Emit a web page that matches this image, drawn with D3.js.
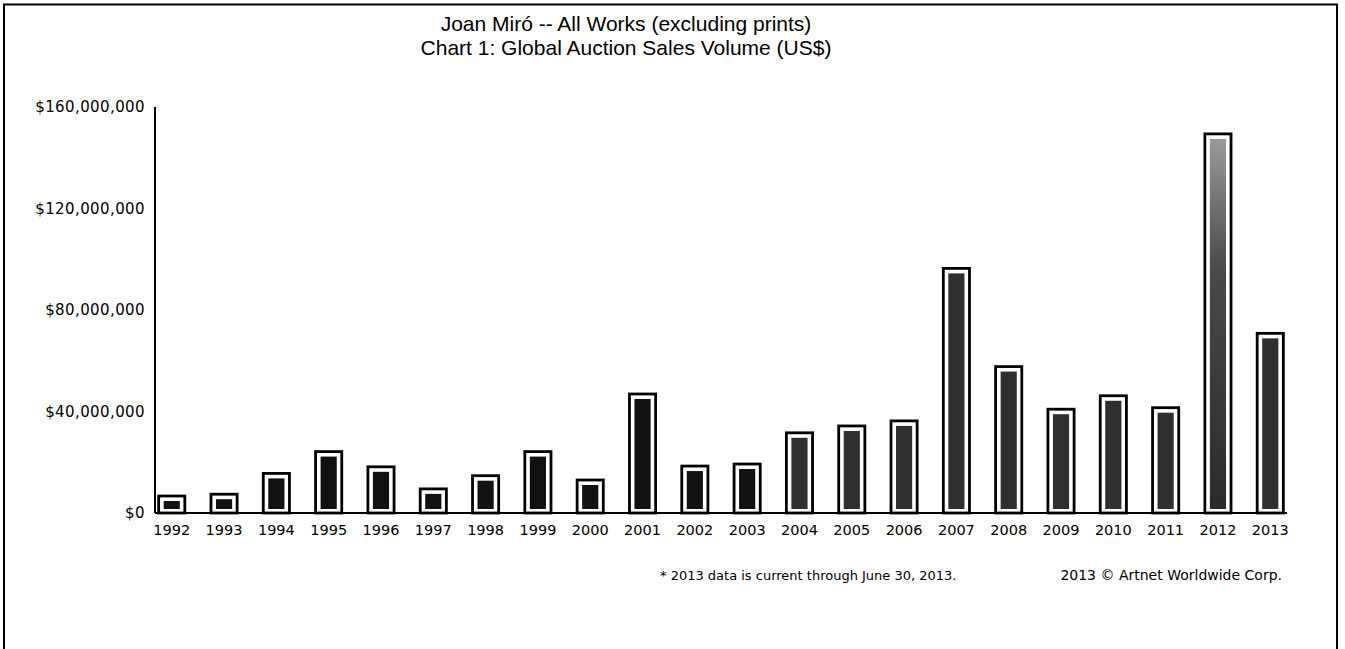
<!DOCTYPE html>
<html>
<head>
<meta charset="utf-8">
<script src="https://cdn.jsdelivr.net/npm/d3@7"></script>
<style>
  body { margin: 0; background: #fff; }
  svg { display: block; }
  .tick-y, .tick-x { font-family: "DejaVu Sans", Verdana, sans-serif; fill: #000; }
</style>
</head>
<body>
<svg id="chart" width="1345" height="649"></svg>
<script>
// data (US$ millions)
var years = ["1992","1993","1994","1995","1996","1997","1998","1999","2000","2001","2002",
             "2003","2004","2005","2006","2007","2008","2009","2010","2011","2012","2013"];
var salesMillions = [6.7, 7.4, 15.6, 24.2, 18.2, 9.5, 14.7, 24.2, 13.0, 46.9, 18.5,
                     19.3, 31.6, 34.3, 36.3, 96.4, 57.7, 40.9, 46.2, 41.5, 149.4, 70.8];
var yTicks = [0, 40000000, 80000000, 120000000, 160000000];
var titleLines = ["Joan Miró -- All Works (excluding prints)",
                  "Chart 1: Global Auction Sales Volume (US$)"];
var footNote = "* 2013 data is current through June 30, 2013.";
var copyright = "2013 \u00A9 Artnet Worldwide Corp.";

var data = years.map(function(y, i) { return { year: y, value: salesMillions[i] * 1e6 }; });

var svg = d3.select("#chart");

// frame (no bottom edge, it runs off the page)
svg.append("path")
  .attr("d", "M4,649 L4,4.5 L1337,4.5 L1337,649")
  .attr("fill", "none")
  .attr("stroke", "#000")
  .attr("stroke-width", 2);

// titles
svg.selectAll(".title")
  .data(titleLines)
  .enter().append("text")
  .attr("class", "title")
  .attr("x", 626)
  .attr("y", function(d, i) { return 31 + i * 24; })
  .attr("text-anchor", "middle")
  .attr("font-family", "'Liberation Sans', Arial, sans-serif")
  .attr("font-size", "21px")
  .text(function(d) { return d; });

var x = d3.scaleBand()
  .domain(years)
  .range([155, 1287])
  .paddingInner(0.5)
  .paddingOuter(0.07);

var y = d3.scaleLinear()
  .domain([0, 160000000])
  .range([513, 107]);

var fmt = d3.format("$,");

// y labels (no tick marks in the original)
var gy = svg.append("g").attr("transform", "translate(155,0)")
  .call(d3.axisLeft(y).tickValues(yTicks).tickSize(0).tickPadding(10).tickFormat(fmt));
gy.select(".domain").remove();
gy.selectAll("text")
  .attr("class", "tick-y")
  .attr("font-size", "15px")
  .attr("letter-spacing", "0.4px");

// x labels
var gx = svg.append("g").attr("transform", "translate(0,513)")
  .call(d3.axisBottom(x).tickSize(0).tickPadding(12));
gx.select(".domain").remove();
gx.selectAll("text")
  .attr("class", "tick-x")
  .attr("font-size", "14.5px");

// bar fills
var defs = svg.append("defs");
var grad = defs.append("linearGradient")
  .attr("id", "lightTop")
  .attr("x1", 0).attr("y1", 0).attr("x2", 0).attr("y2", 1);
grad.append("stop").attr("offset", "0%").attr("stop-color", "#9a9a9a");
grad.append("stop").attr("offset", "35%").attr("stop-color", "#4a4a4a");
grad.append("stop").attr("offset", "100%").attr("stop-color", "#2a2a2a");

function innerFill(d) {
  if (d.year === "2012") return "url(#lightTop)";
  return +d.year >= 2004 ? "#2f2f2f" : "#111";
}

var bars = svg.selectAll(".bar")
  .data(data)
  .enter().append("g")
  .attr("class", "bar");

bars.append("rect")
  .attr("x", function(d) { return x(d.year); })
  .attr("y", function(d) { return y(d.value); })
  .attr("width", x.bandwidth())
  .attr("height", function(d) { return y(0) - y(d.value); })
  .attr("fill", "#fff")
  .attr("stroke", "#000")
  .attr("stroke-width", 2.8);

bars.append("rect")
  .attr("x", function(d) { return x(d.year) + 5; })
  .attr("y", function(d) { return y(d.value) + 5; })
  .attr("width", x.bandwidth() - 10)
  .attr("height", function(d) { return Math.max(0, y(0) - y(d.value) - 9); })
  .attr("fill", innerFill);

// axis lines
svg.append("line")
  .attr("x1", 155).attr("x2", 155)
  .attr("y1", y(160000000)).attr("y2", y(0))
  .attr("stroke", "#000").attr("stroke-width", 2);
svg.append("line")
  .attr("x1", 155).attr("x2", 1287)
  .attr("y1", y(0)).attr("y2", y(0))
  .attr("stroke", "#000").attr("stroke-width", 2);

// footer
svg.append("text")
  .attr("x", 660).attr("y", 580)
  .attr("font-family", "'DejaVu Sans', Verdana, sans-serif")
  .attr("font-size", "13px")
  .text(footNote);
svg.append("text")
  .attr("x", 1282).attr("y", 580)
  .attr("text-anchor", "end")
  .attr("font-family", "'DejaVu Sans', Verdana, sans-serif")
  .attr("font-size", "14px")
  .text(copyright);
</script>
</body>
</html>
